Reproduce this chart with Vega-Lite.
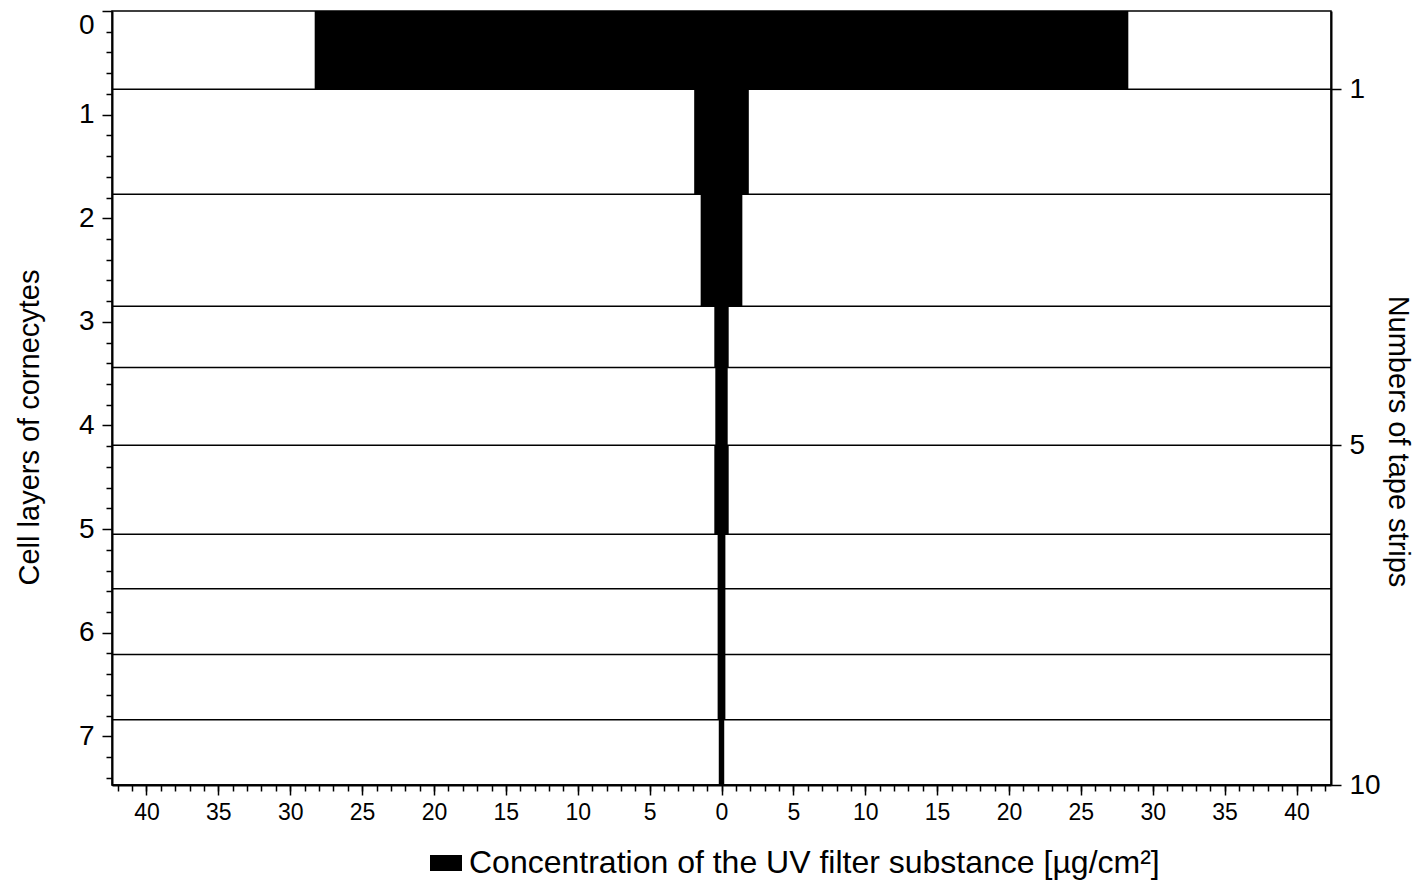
{
  "$schema": "https://vega.github.io/schema/vega-lite/v6.json",
  "autosize": {"type": "none"},
  "padding": {"left": 112, "top": 11, "right": 93, "bottom": 95},
  "width": 1219,
  "height": 774,
  "background": "white",
  "config": {
    "font": "Liberation Sans",
    "view": {"stroke": "black", "strokeWidth": 1.5},
    "axis": {
      "labelColor": "black", "titleColor": "black", "tickColor": "black", "domainColor": "black",
      "grid": false, "titleFontWeight": "normal", "labelFont": "Liberation Sans", "titleFont": "Liberation Sans"
    },
    "legend": {"labelColor": "black", "labelFont": "Liberation Sans"}
  },
  "datasets": {
    "strips": [
      {"strip": 1, "top": 0, "bottom": 0.754, "lower": -28.3, "upper": 28.3, "series": "Concentration of the UV filter substance [µg/cm²]"},
      {"strip": 2, "top": 0.754, "bottom": 1.768, "lower": -1.9, "upper": 1.9, "series": "Concentration of the UV filter substance [µg/cm²]"},
      {"strip": 3, "top": 1.768, "bottom": 2.85, "lower": -1.45, "upper": 1.45, "series": "Concentration of the UV filter substance [µg/cm²]"},
      {"strip": 4, "top": 2.85, "bottom": 3.44, "lower": -0.5, "upper": 0.5, "series": "Concentration of the UV filter substance [µg/cm²]"},
      {"strip": 5, "top": 3.44, "bottom": 4.19, "lower": -0.43, "upper": 0.43, "series": "Concentration of the UV filter substance [µg/cm²]"},
      {"strip": 6, "top": 4.19, "bottom": 5.05, "lower": -0.5, "upper": 0.5, "series": "Concentration of the UV filter substance [µg/cm²]"},
      {"strip": 7, "top": 5.05, "bottom": 5.575, "lower": -0.27, "upper": 0.27, "series": "Concentration of the UV filter substance [µg/cm²]"},
      {"strip": 8, "top": 5.575, "bottom": 6.21, "lower": -0.27, "upper": 0.27, "series": "Concentration of the UV filter substance [µg/cm²]"},
      {"strip": 9, "top": 6.21, "bottom": 6.84, "lower": -0.27, "upper": 0.27, "series": "Concentration of the UV filter substance [µg/cm²]"},
      {"strip": 10, "top": 6.84, "bottom": 7.47, "lower": -0.19, "upper": 0.19, "series": "Concentration of the UV filter substance [µg/cm²]"}
    ]
  },
  "resolve": {"axis": {"x": "independent", "y": "independent"}},
  "layer": [
    {
      "data": {"name": "strips"},
      "mark": {"type": "rect"},
      "encoding": {
        "x": {"field": "lower", "type": "quantitative",
          "scale": {"domain": [-42.4, 42.4], "nice": false, "zero": false},
          "axis": {"orient": "bottom", "title": null, "values": [-40, -35, -30, -25, -20, -15, -10, -5, 0, 5, 10, 15, 20, 25, 30, 35, 40],
            "labelExpr": "'' + abs(datum.value)", "tickSize": 10, "tickWidth": 1.5, "domainWidth": 2, "labelFontSize": 23, "labelPadding": 6}},
        "x2": {"field": "upper"},
        "y": {"field": "top", "type": "quantitative",
          "scale": {"domain": [0, 7.47], "reverse": true, "nice": false, "zero": false},
          "axis": {"orient": "left", "values": [0, 1, 2, 3, 4, 5, 6, 7], "tickSize": 10, "tickWidth": 1.5, "domainWidth": 2,
            "labelFontSize": 28, "labelPadding": 8, "labelFlush": true,
            "title": "Cell layers of cornecytes", "titleFontSize": 29, "titleAngle": -90, "titleX": -74, "titleY": 416,
            "titleBaseline": "alphabetic", "titleAlign": "center"}},
        "y2": {"field": "bottom"},
        "color": {"field": "series", "type": "nominal", "scale": {"range": ["black"]},
          "legend": {"orient": "none", "legendX": 318, "legendY": 836, "title": null, "padding": 0,
            "symbolType": "M-1,-0.5H1V0.5H-1Z", "symbolSize": 1024, "symbolStrokeWidth": 0,
            "labelFontSize": 32, "labelLimit": 2000, "labelOffset": 7}}
      }
    },
    {
      "data": {"name": "strips"},
      "mark": {"type": "rule", "color": "black", "strokeWidth": 1.5},
      "encoding": {
        "y": {"field": "bottom", "type": "quantitative",
          "scale": {"domain": [0, 7.47], "reverse": true, "nice": false, "zero": false},
          "axis": {"orient": "right", "values": [0.754, 4.19, 7.47],
            "labelExpr": "datum.value < 1 ? '1' : datum.value < 5 ? '5' : '10'",
            "tickSize": 10, "tickWidth": 1.5, "domainWidth": 2, "labelFontSize": 28, "labelPadding": 8,
            "title": "Numbers of tape strips", "titleFontSize": 29, "titleAngle": 90, "titleX": 57, "titleY": 430,
            "titleBaseline": "alphabetic", "titleAlign": "center"}}
      }
    },
    {
      "data": {"name": "strips"},
      "mark": {"type": "point", "opacity": 0},
      "encoding": {
        "x": {"field": "lower", "type": "quantitative",
          "scale": {"domain": [-42.4, 42.4], "nice": false, "zero": false},
          "axis": {"orient": "bottom", "title": null, "labels": false, "domain": false, "tickSize": 6, "tickWidth": 1.5,
            "values": [-42, -41, -40, -39, -38, -37, -36, -35, -34, -33, -32, -31, -30, -29, -28, -27, -26, -25, -24, -23, -22, -21, -20, -19, -18, -17, -16, -15, -14, -13, -12, -11, -10, -9, -8, -7, -6, -5, -4, -3, -2, -1, 0, 1, 2, 3, 4, 5, 6, 7, 8, 9, 10, 11, 12, 13, 14, 15, 16, 17, 18, 19, 20, 21, 22, 23, 24, 25, 26, 27, 28, 29, 30, 31, 32, 33, 34, 35, 36, 37, 38, 39, 40, 41, 42]}},
        "y": {"field": "top", "type": "quantitative",
          "scale": {"domain": [0, 7.47], "reverse": true, "nice": false, "zero": false},
          "axis": {"orient": "left", "title": null, "labels": false, "domain": false, "tickSize": 6, "tickWidth": 1.5,
            "values": [0.2, 0.4, 0.6, 0.8, 1.2, 1.4, 1.6, 1.8, 2.2, 2.4, 2.6, 2.8, 3.2, 3.4, 3.6, 3.8, 4.2, 4.4, 4.6, 4.8, 5.2, 5.4, 5.6, 5.8, 6.2, 6.4, 6.6, 6.8, 7.2, 7.4]}}
      }
    }
  ]
}
